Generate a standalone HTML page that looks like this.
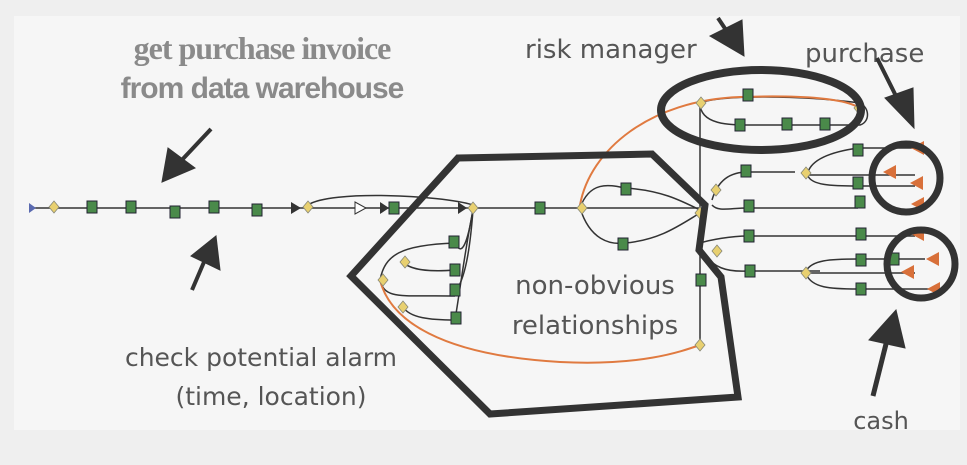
<!DOCTYPE html>
<html><head><style>
html,body{margin:0;padding:0;background:#efefef;}
svg{display:block;}
text{font-family:"DejaVu Sans","Liberation Sans",sans-serif;fill:#555;}
</style></head><body>
<svg width="967" height="465" viewBox="0 0 967 465" xmlns="http://www.w3.org/2000/svg">
<rect x="0" y="0" width="967" height="465" fill="#efefef"/>
<rect x="14" y="16" width="946" height="414" fill="#f6f6f6"/>
<defs>
<g id="g"><rect x="-5" y="-6" width="10" height="12" fill="#4a8a4a" stroke="#223" stroke-width="1"/></g>
<g id="d"><path d="M0,-6 L5,0 L0,6 L-5,0Z" fill="#e8d070" stroke="#887" stroke-width="0.8"/></g>
<g id="o"><path d="M-7,0 L6,-7 L6,7Z" fill="#d8703a"/></g>
</defs>
<!-- titles -->
<text x="262" y="59" text-anchor="middle" font-weight="bold" font-size="32" style="font-family:'Liberation Serif',serif;fill:#8a8a8a;letter-spacing:-1px">get purchase invoice</text>
<text x="262" y="98" text-anchor="middle" font-weight="bold" font-size="30" style="font-family:'Liberation Sans',sans-serif;fill:#8a8a8a;letter-spacing:-1px">from data warehouse</text>
<text x="525" y="58" font-size="26">risk manager</text>
<text x="805" y="62" font-size="26">purchase</text>
<text x="595" y="294" text-anchor="middle" font-size="26">non-obvious</text>
<text x="595" y="334" text-anchor="middle" font-size="26">relationships</text>
<text x="261" y="366" text-anchor="middle" font-size="25">check potential alarm</text>
<text x="271" y="405" text-anchor="middle" font-size="25">(time, location)</text>
<text x="881" y="429" text-anchor="middle" font-size="24">cash</text>
<!-- thin network lines -->
<g fill="none" stroke="#333" stroke-width="1.5">
<line x1="32" y1="208" x2="700" y2="208"/>
<path d="M308,205 C330,190 440,195 473,205"/>
<path d="M580,208 C590,180 610,185 625,188 C660,190 680,200 700,210"/>
<path d="M580,208 C590,240 610,245 625,243 C660,240 680,225 700,213"/>
<line x1="700" y1="100" x2="700" y2="345"/>
<path d="M700,103 C700,125 730,125 750,125 L860,125 C870,122 870,108 860,103 C800,95 720,95 700,103"/>
<path d="M473,210 C465,250 460,290 455,320"/>
<path d="M473,210 C470,250 465,280 455,292"/>
<path d="M473,210 C468,240 462,260 455,242"/>
<path d="M380,280 C385,255 400,245 455,243"/>
<path d="M403,262 C410,270 430,272 455,270"/>
<path d="M380,280 C385,300 400,295 455,296"/>
<path d="M403,307 C410,318 430,320 455,320"/>
<path d="M712,200 C718,180 730,172 748,172 L795,172"/>
<path d="M712,205 C718,212 730,208 748,208 L858,208"/>
<path d="M808,172 C812,160 830,152 858,148 L915,148"/>
<path d="M808,175 L915,175"/>
<path d="M808,176 C812,185 830,186 858,186 L915,186"/>
<path d="M700,243 C710,240 730,236 748,236 L915,236"/>
<path d="M700,245 C710,270 730,272 748,271 L820,271"/>
<path d="M806,271 C812,260 830,259 858,259 L925,259"/>
<path d="M806,273 L915,273"/>
<path d="M806,274 C812,288 830,289 858,289 L930,289"/>
</g>
<!-- orange curves -->
<g fill="none" stroke="#e07a40" stroke-width="2">
<path d="M580,205 C590,150 650,100 740,97 C800,95 850,98 862,110"/>
<path d="M380,280 C390,320 440,355 560,362 C640,366 680,352 700,345"/>
</g>
<!-- nodes -->
<path d="M29,203 L36,208 L29,213Z" fill="#5a6ab0"/>
<use href="#d" x="54" y="207"/>
<use href="#g" x="92" y="207"/><use href="#g" x="131" y="207"/><use href="#g" x="175" y="212"/><use href="#g" x="214" y="207"/><use href="#g" x="257" y="210"/>
<path d="M291,202 L301,208 L291,214Z" fill="#333"/><use href="#d" x="308" y="207"/>
<path d="M355,202 L366,208 L355,214Z" fill="#fff" stroke="#333"/>
<path d="M380,202 L389,208 L380,214Z" fill="#333"/><use href="#g" x="394" y="208"/>
<path d="M458,202 L467,208 L458,214Z" fill="#333"/><use href="#d" x="473" y="208"/>
<use href="#g" x="540" y="208"/><use href="#d" x="582" y="208"/>
<use href="#g" x="626" y="189"/><use href="#g" x="623" y="244"/>
<use href="#d" x="700" y="213"/><use href="#d" x="716" y="190"/>
<use href="#g" x="454" y="242"/><use href="#g" x="455" y="270"/><use href="#g" x="455" y="290"/><use href="#g" x="456" y="318"/>
<use href="#d" x="405" y="262"/><use href="#d" x="383" y="280"/><use href="#d" x="403" y="307"/>
<use href="#g" x="701" y="280"/><use href="#d" x="700" y="345"/>
<use href="#d" x="701" y="103"/><use href="#g" x="748" y="95"/><use href="#g" x="740" y="125"/><use href="#g" x="787" y="124"/><use href="#g" x="825" y="124"/><use href="#d" x="859" y="108"/>
<use href="#g" x="858" y="150"/><use href="#g" x="746" y="171"/><use href="#d" x="806" y="173"/><use href="#g" x="858" y="183"/>
<use href="#g" x="749" y="206"/><use href="#g" x="860" y="202"/>
<use href="#g" x="749" y="236"/><use href="#g" x="861" y="234"/><use href="#d" x="717" y="251"/>
<use href="#g" x="750" y="271"/><use href="#d" x="806" y="273"/><use href="#g" x="861" y="260"/><use href="#g" x="861" y="289"/><use href="#g" x="894" y="259"/>
<use href="#o" x="918" y="148"/><use href="#o" x="890" y="172"/><use href="#o" x="917" y="183"/><use href="#o" x="918" y="204"/>
<use href="#o" x="918" y="234"/><use href="#o" x="933" y="259"/><use href="#o" x="908" y="272"/><use href="#o" x="934" y="289"/>
<!-- thick shapes -->
<g fill="none" stroke="#333" stroke-width="7" stroke-linejoin="miter">
<path d="M458,158 L652,154 L705,205 L699,250 L721,277 L738,397 L490,414 L351,276 Z"/>
<ellipse cx="761" cy="110" rx="100" ry="40" stroke-width="8"/>
<circle cx="906" cy="178" r="34"/>
<circle cx="921" cy="264" r="34"/>
</g>
<!-- big arrows -->
<g fill="#333" stroke="#333">
<line x1="211" y1="129" x2="180" y2="162" stroke-width="4"/><path d="M162,182 L168,148 L195,168Z"/>
<line x1="192" y1="290" x2="204" y2="262" stroke-width="4"/><path d="M216,236 L220,270 L191,256Z"/>
<line x1="718" y1="18" x2="726" y2="30" stroke-width="4"/><path d="M744,56 L710,36 L742,20Z"/>
<line x1="877" y1="58" x2="898" y2="100" stroke-width="4"/><path d="M914,128 L913,88 L885,98Z"/>
<line x1="873" y1="396" x2="887" y2="340" stroke-width="5"/><path d="M896,310 L905,348 L869,340Z"/>
</g>
</svg>
</body></html>
